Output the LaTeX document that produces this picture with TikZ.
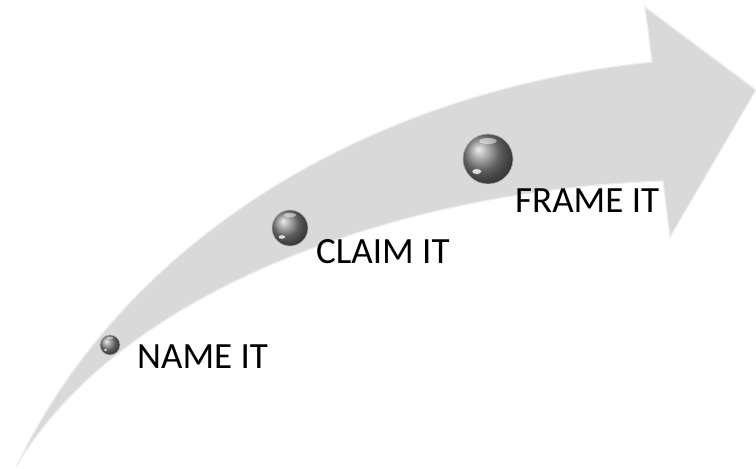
\documentclass[tikz,border=0pt]{standalone}
\usepackage{fontspec}
\setmainfont{Carlito}
\definecolor{arrowgray}{HTML}{D9D9D9}
\definecolor{edgegray}{HTML}{EDEDED}
\begin{document}
\begin{tikzpicture}[x=1pt,y=-1pt,
  lbl/.style={font=\fontsize{37}{40}\selectfont, text=black, inner sep=0pt, anchor=base west},
  sphere/.style={circle, inner sep=0pt, shading=ball, ball color=gray!95, draw=gray!60, line width=0.6pt}]
\useasboundingbox (0,0) rectangle (756,469);
% arrow body
\fill[arrowgray, draw=edgegray, line width=1.2pt, line join=miter]
  (16,467) .. controls (130,230) and (380,90) .. (652,62)
  -- (645,7) -- (756,90) -- (670,237) -- (663,181)
  .. controls (400,190) and (120,290) .. (16,467) -- cycle;
% spheres
\node[sphere, minimum size=20pt] (s1) at (110,345) {};
\node[sphere, minimum size=36pt] (s2) at (290,228) {};
\node[sphere, minimum size=50pt] (s3) at (488,159) {};
\foreach \s/\r in {s1/10, s2/18, s3/25}{
  \fill[white, opacity=0.8] ([shift={(-0.45*\r,0.5*\r)}]\s.center) ellipse ({0.18*\r} and {0.1*\r});
  \fill[white, opacity=0.5] ([shift={(0,-0.72*\r)}]\s.center) ellipse ({0.35*\r} and {0.12*\r});
}
% labels
\node[lbl] (t1) at (137,368) {NAME IT};
\node[lbl] (t2) at (316,263) {CLAIM IT};
\node[lbl] (t3) at (515,212) {FRAME IT};
\end{tikzpicture}
\end{document}
